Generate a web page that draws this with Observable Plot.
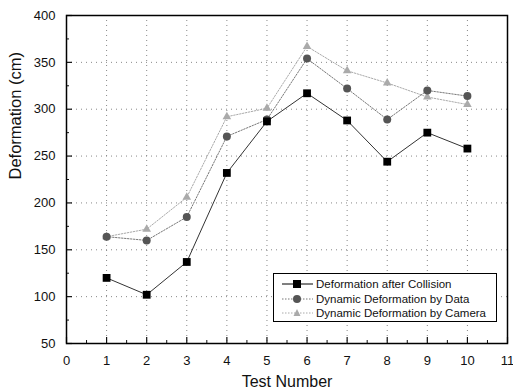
<!DOCTYPE html>
<html>
<head>
<meta charset="utf-8">
<script src="https://cdn.jsdelivr.net/npm/d3@7"></script>
<script src="https://cdn.jsdelivr.net/npm/@observablehq/plot@0.6"></script>
<style>
  body { margin: 0; background: #fff; }
  #wrap { position: relative; width: 513px; height: 391px; font-family: "Liberation Sans", Arial, sans-serif; }
  #legend { position: absolute; left: 273px; top: 273px; width: 222px; height: 47px; border: 1px solid #000; background: #fff; font-size: 11.5px; color: #111; }
  #legend .row { position: absolute; left: 8px; height: 14px; display: flex; align-items: center; }
  #legend .row span { margin-left: 2px; }
</style>
</head>
<body>
<div id="wrap"></div>
<script>
const testNumbers = [1, 2, 3, 4, 5, 6, 7, 8, 9, 10];
const afterCollision = [120, 102, 137, 232, 287, 317, 288, 244, 275, 258];
const byData = [164, 160, 185, 271, 289, 354, 322, 289, 320, 314];
const byCamera = [164, 172, 206, 292, 301, 367, 341, 328, 313, 305];
const xTicks = [0, 1, 2, 3, 4, 5, 6, 7, 8, 9, 10, 11];
const xMinor = [0.5, 1.5, 2.5, 3.5, 4.5, 5.5, 6.5, 7.5, 8.5, 9.5, 10.5];
const yTicks = [50, 100, 150, 200, 250, 300, 350, 400];
const yMinor = [75, 125, 175, 225, 275, 325, 375];
const seriesNames = ["Deformation after Collision", "Dynamic Deformation by Data", "Dynamic Deformation by Camera"];

const s1 = testNumbers.map((x, i) => ({x, y: afterCollision[i]}));
const s2 = testNumbers.map((x, i) => ({x, y: byData[i]}));
const s3 = testNumbers.map((x, i) => ({x, y: byCamera[i]}));

const chart = Plot.plot({
  width: 513,
  height: 391,
  marginLeft: 66,
  marginRight: 6,
  marginTop: 15,
  marginBottom: 48,
  style: {fontFamily: "Liberation Sans, Arial, sans-serif", fontSize: "13px", color: "#111", background: "#fff"},
  x: {domain: [0, 11]},
  y: {domain: [50, 400]},
  marks: [
    Plot.gridX(testNumbers, {stroke: "#888", strokeOpacity: 1, strokeDasharray: "1,4"}),
    Plot.gridY(yTicks.slice(1, -1), {stroke: "#888", strokeOpacity: 1, strokeDasharray: "1,4"}),
    Plot.axisX({ticks: xTicks, tickSize: 0, tickPadding: 12, label: null, fontSize: 13}),
    Plot.axisX({ticks: xTicks, tickSize: -6, text: null, label: null, strokeWidth: 1.2}),
    Plot.axisX({ticks: xMinor, tickSize: -3, text: null, label: null}),
    Plot.axisY({ticks: yTicks, tickSize: 0, tickPadding: 11, label: null, fontSize: 13}),
    Plot.axisY({ticks: yTicks, tickSize: -6, text: null, label: null, strokeWidth: 1.2}),
    Plot.axisY({ticks: yMinor, tickSize: -3, text: null, label: null}),
    Plot.frame({stroke: "#000", strokeWidth: 1.5}),
    Plot.lineY(s3, {x: "x", y: "y", stroke: "#aaa", strokeWidth: 1, strokeDasharray: "1.5,1.5"}),
    Plot.lineY(s2, {x: "x", y: "y", stroke: "#777", strokeWidth: 1, strokeDasharray: "1.5,1.5"}),
    Plot.lineY(s1, {x: "x", y: "y", stroke: "#333", strokeWidth: 1}),
    Plot.dot(s3, {x: "x", y: "y", symbol: "triangle", r: 3.2, fill: "#aaa"}),
    Plot.dot(s2, {x: "x", y: "y", symbol: "circle", r: 4, fill: "#555"}),
    Plot.dot(s1, {x: "x", y: "y", symbol: "square", r: 4.4, fill: "#000"}),
    Plot.text(["Test Number"], {frameAnchor: "bottom", dy: 38, lineAnchor: "middle", fontSize: 16, fill: "#111"}),
    Plot.text(["Deformation (cm)"], {frameAnchor: "left", dx: -51, lineAnchor: "middle", rotate: -90, fontSize: 16.5, fill: "#111"})
  ]
});
const wrap = document.getElementById("wrap");
wrap.appendChild(chart);

const legend = document.createElement("div");
legend.id = "legend";
const legendStyles = [
  {stroke: "#000", dash: "", sym: '<rect x="11" y="3" width="8" height="8" fill="#000"/>'},
  {stroke: "#777", dash: "1.5,1.5", sym: '<circle cx="15" cy="7" r="4" fill="#555"/>'},
  {stroke: "#aaa", dash: "1.5,1.5", sym: '<path d="M15,3L18.5,10H11.5Z" fill="#aaa"/>'}
];
seriesNames.forEach((name, i) => {
  const st = legendStyles[i];
  const row = document.createElement("div");
  row.className = "row";
  row.style.top = (3 + i * 14.5) + "px";
  row.innerHTML = `<svg width="32" height="14"><line x1="0" y1="7" x2="31" y2="7" stroke="${st.stroke}" stroke-dasharray="${st.dash}"/>${st.sym}</svg><span>${name}</span>`;
  legend.appendChild(row);
});
wrap.appendChild(legend);
</script>
</body>
</html>
